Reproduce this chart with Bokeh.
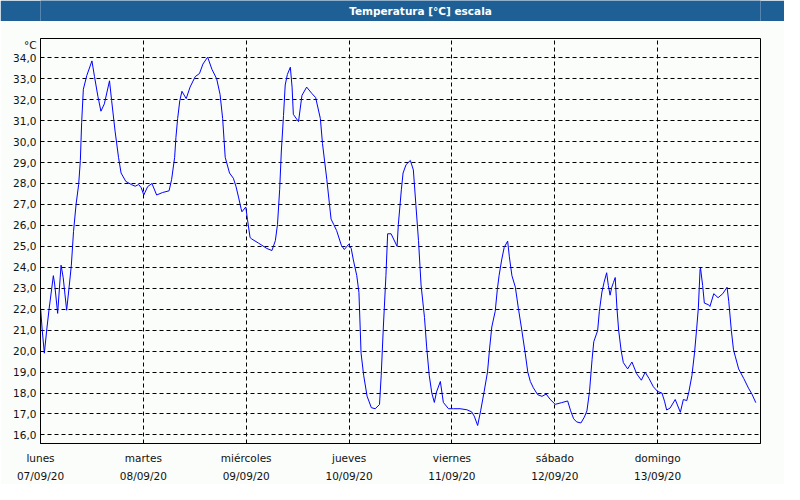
from bokeh.plotting import figure
from bokeh.models import Range1d, FixedTicker, LinearAxis, ColumnDataSource
from bokeh.layouts import column
from bokeh.embed import file_html
from bokeh.resources import INLINE
from bokeh.core.properties import value

title_text = "Temperatura [°C] escala"
unit_label = "°C"
day_names = ["lunes", "martes", "miércoles", "jueves", "viernes", "sábado", "domingo"]
day_dates = ["07/09/20", "08/09/20", "09/09/20", "10/09/20", "11/09/20", "12/09/20", "13/09/20"]

# hours since 07/09/20 00:00
hours = [0.0, 0.4, 0.9, 1.5, 2.0, 3.0, 3.3, 4.0, 4.8, 5.3, 6.1, 6.7, 7.2, 7.7, 8.3, 8.9, 9.3, 9.6,
         10.0, 10.8, 12.0, 12.6, 13.4, 14.1, 14.9, 16.1, 16.6, 17.4, 18.2, 18.8, 19.9, 21.2, 22.1,
         22.9, 23.5, 24.1, 25.0, 26.0, 27.1, 28.5, 30.0, 30.6, 31.3, 31.6, 32.0, 32.5, 33.0, 34.0,
         34.9, 36.1, 37.1, 37.9, 39.0, 40.0, 41.1, 41.9, 42.5, 43.1, 44.1, 45.0, 45.6, 46.2, 46.8,
         47.0, 47.9, 48.3, 48.9, 49.3, 50.9, 52.8, 54.0, 54.8, 55.3, 55.8, 56.2, 56.7, 57.1, 57.6,
         58.3, 58.7, 59.0, 60.2, 61.0, 62.1, 63.3, 64.2, 65.3, 65.8, 66.8, 67.8, 68.4, 69.1, 70.2,
         70.9, 71.9, 72.5, 73.0, 73.8, 74.3, 74.8, 75.4, 76.2, 77.2, 78.1, 79.1, 79.5, 80.0, 80.6,
         81.0, 81.8, 83.2, 83.5, 84.2, 84.6, 85.3, 86.3, 87.0, 87.6, 88.2, 88.8, 89.6, 90.1, 90.7,
         91.3, 91.9, 92.4, 93.3, 94.0, 95.2, 96.4, 97.9, 99.5, 100.6, 101.2, 102.0, 102.7, 103.5,
         104.3, 104.8, 105.3, 106.1, 106.6, 107.0, 107.6, 108.2, 109.0, 109.4, 110.0, 110.8, 111.5,
         112.3, 113.1, 113.7, 114.3, 115.0, 116.0, 117.0, 118.0, 118.9, 120.1, 121.6, 123.0, 123.7,
         124.4, 125.1, 126.1, 126.9, 127.5, 128.1, 128.7, 129.1, 130.0, 130.4, 131.0, 131.5, 132.1,
         132.5, 132.9, 133.3, 133.7, 134.1, 134.5, 134.9, 135.5, 136.0, 137.0, 138.0, 139.1, 140.2,
         141.1, 142.0, 143.0, 144.0, 145.0, 145.6, 146.1, 146.9, 148.1, 149.3, 150.0, 150.8, 151.3,
         152.0, 152.6, 153.1, 153.5, 153.9, 154.0, 154.5, 154.9, 155.9, 156.2, 157.1, 158.1, 159.2,
         160.2, 160.6, 161.2, 161.7, 162.1, 162.9, 164.1, 165.2, 166.0, 166.9]
temps = [22.1, 21.0, 19.9, 21.1, 22.0, 23.6, 23.2, 21.8, 24.1, 23.5, 21.95, 23.1, 24.1, 25.7, 27.0,
         27.95, 29.1, 30.9, 32.5, 33.15, 33.85, 33.1, 32.15, 31.45, 31.8, 32.9, 31.95, 30.5, 29.25,
         28.5, 28.1, 27.95, 27.87, 27.95, 27.8, 27.45, 27.85, 28.0, 27.45, 27.57, 27.65, 28.2, 29.25,
         30.2, 31.1, 31.95, 32.4, 32.05, 32.6, 33.1, 33.25, 33.7, 34.03, 33.45, 33.0, 32.25, 31.1,
         29.25, 28.5, 28.25, 27.87, 27.35, 26.8, 26.65, 26.88, 26.27, 25.42, 25.35, 25.15, 24.9, 24.8,
         25.27, 26.05, 27.7, 29.55, 31.25, 32.7, 33.2, 33.55, 32.6, 31.3, 30.95, 32.2, 32.6, 32.3,
         32.1, 31.1, 29.9, 28.2, 26.3, 26.05, 25.75, 25.05, 24.85, 25.1, 24.9, 24.35, 23.6, 22.8,
         19.9, 18.85, 17.85, 17.3, 17.25, 17.45, 18.85, 21.15, 23.6, 25.6, 25.6, 25.0, 26.05, 27.7,
         28.5, 28.9, 29.1, 28.65, 26.95, 25.27, 23.15, 21.6, 20.2, 18.85, 18.0, 17.55, 18.05, 18.55,
         17.55, 17.25, 17.25, 17.25, 17.2, 17.1, 16.9, 16.45, 17.15, 18.05, 19.0, 20.15, 21.15, 21.9,
         22.95, 23.6, 24.35, 24.95, 25.25, 24.5, 23.6, 23.05, 22.05, 21.0, 19.9, 19.0, 18.55, 18.25,
         17.92, 17.84, 17.95, 17.7, 17.46, 17.54, 17.62, 17.15, 16.77, 16.62, 16.57, 16.85, 17.15,
         18.07, 19.6, 20.45, 20.98, 21.9, 22.82, 23.28, 23.74, 23.13, 22.67, 23.05, 23.28, 23.51,
         22.06, 21.0, 20.0, 19.45, 19.15, 19.48, 18.92, 18.61, 18.99, 18.69, 18.3, 18.07, 18.0, 17.61,
         17.19, 17.28, 17.69, 17.08, 17.69, 17.64, 18.07, 18.84, 19.91, 21.06, 22.06, 23.89, 23.97,
         23.13, 22.29, 22.21, 22.13, 22.74, 22.55, 22.74, 23.05, 22.36, 20.98, 20.06, 19.76, 19.15,
         18.69, 18.23, 17.95, 17.54]

y_ticks = list(range(16, 35))
y_tick_labels = [f"{v},0" for v in y_ticks]
unit_tick = 34.6
day_ticks = [24 * i for i in range(len(day_names))]

BG = "#FAFDFA"
BAR = "#1E5F96"
FONT = "DejaVu Sans"
TXT = "#111111"
W = 784

# title bar
bar = figure(width=W, height=21, output_backend="svg", toolbar_location=None,
             x_range=Range1d(-W / 2, W / 2), y_range=Range1d(0, 21),
             x_axis_location=None, y_axis_location=None, min_border=0)
bar.grid.visible = False
bar.background_fill_color = BAR
bar.border_fill_color = BAR
bar.outline_line_color = None
bar.text(x=[0], y=[10.5], x_offset=20, text=[title_text], text_color="white",
         text_font=value(FONT), text_font_style="bold", text_font_size="10.5px",
         text_align="center", text_baseline="middle")

# main chart
src = ColumnDataSource(dict(h=hours, t=temps))
p = figure(width=W, height=463, output_backend="svg", toolbar_location=None,
           x_range=Range1d(0, 168), y_range=Range1d(15.59, 34.92),
           min_border_left=40, min_border_right=24, min_border_top=17, min_border_bottom=10)
p.background_fill_color = BG
p.border_fill_color = BG
p.outline_line_color = "black"
p.outline_line_width = 1

p.line("h", "t", source=src, line_color="#0000FF", line_width=1)

# x axis: day names, then a second axis with dates
p.xaxis.ticker = FixedTicker(ticks=day_ticks)
p.xaxis.major_label_overrides = {t: n for t, n in zip(day_ticks, day_names)}
date_axis = LinearAxis(ticker=FixedTicker(ticks=day_ticks),
                       major_label_overrides={t: d for t, d in zip(day_ticks, day_dates)})
p.add_layout(date_axis, "below")

# y axis with comma decimals, unit shown at the top
p.yaxis.ticker = FixedTicker(ticks=y_ticks + [unit_tick])
overrides = {t: s for t, s in zip(y_ticks, y_tick_labels)}
overrides[unit_tick] = unit_label
p.yaxis.major_label_overrides = overrides

for ax in (p.xaxis[0], date_axis, p.yaxis[0]):
    ax.major_tick_out = 0
    ax.major_tick_in = 0
    ax.minor_tick_out = 0
    ax.minor_tick_in = 0
    ax.axis_line_color = "black"
    ax.major_label_text_font = FONT
    ax.major_label_text_font_size = "10.5px"
    ax.major_label_text_color = TXT
date_axis.axis_line_color = None
p.yaxis.major_label_standoff = 4
p.xaxis[0].major_label_standoff = 8
date_axis.major_label_standoff = 3

p.xgrid.ticker = FixedTicker(ticks=day_ticks[1:])
p.ygrid.ticker = FixedTicker(ticks=y_ticks)
for g in (p.xgrid[0], p.ygrid[0]):
    g.grid_line_color = "black"
    g.grid_line_dash = "4 3"
    g.grid_line_width = 1

layout = column(bar, p, spacing=0)
open("out.html", "w").write(file_html(layout, INLINE))
